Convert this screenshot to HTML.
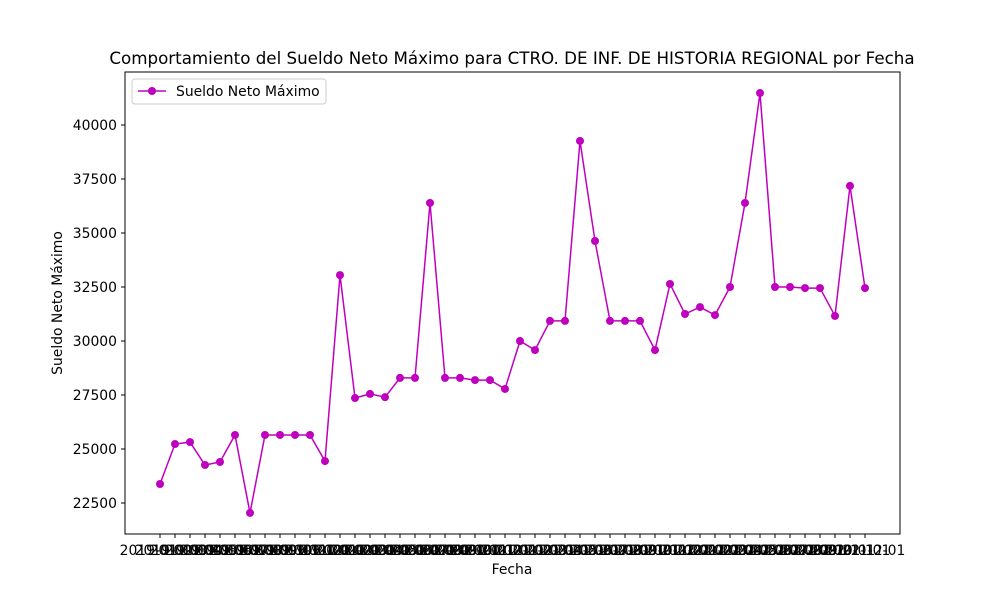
<!DOCTYPE html>
<html><head><meta charset="utf-8"><style>body{margin:0;background:#fff}svg{font-family:"DejaVu Sans","Liberation Sans",sans-serif}</style></head>
<body>
<svg id="c" width="1000" height="600"></svg>
<script>
const categories=[];for(let i=0;i<48;i++){const y=2019+Math.floor(i/12),m=i%12+1;categories.push(y+'-'+String(m).padStart(2,'0')+'-01');}
const values=[23380,25230,25320,24260,24400,25650,22040,25650,25650,25650,25650,24440,33050,27360,27550,27400,28290,28290,36390,28290,28290,28190,28190,27780,30000,29580,30930,30930,39260,34630,30930,30930,30930,29580,32640,31250,31570,31200,32500,36390,41480,32500,32500,32450,32450,31160,37180,32450];
const yTicks=[22500,25000,27500,30000,32500,35000,37500,40000];
const NS='http://www.w3.org/2000/svg',svg=document.getElementById('c');
function el(t,a,txt){const e=document.createElementNS(NS,t);for(const k in a)e.setAttribute(k,a[k]);if(txt!=null)e.textContent=txt;svg.appendChild(e);return e;}
const X=i=>160+i*(705/(categories.length-1));
const Y=v=>503-(v-22500)*(378/17500);
let e;
e=el('rect',{x:125,y:72,width:775,height:462,fill:'none',stroke:'#000','stroke-width':1});


yTicks.forEach(t=>{const y=Y(t);
e=el('line',{x1:121,x2:125,y1:y,y2:y,stroke:'#000'});


e=el('text',{x:117,y:y+5,'text-anchor':'end','font-size':13.9},t);

});
categories.forEach((c,i)=>{const x=X(i);
e=el('line',{x1:x,x2:x,y1:534,y2:538,stroke:'#000'});


e=el('text',{x:x,y:555,'text-anchor':'middle','font-size':13.9},c);

});
e=el('polyline',{points:values.map((v,i)=>X(i)+','+Y(v)).join(' '),fill:'none',stroke:'#bf00bf','stroke-width':1.5});


values.forEach((v,i)=>{e=el('circle',{cx:X(i),cy:Y(v),r:4,fill:'#bf00bf'});

});
e=el('text',{x:512,y:64,'text-anchor':'middle','font-size':16.7},'Comportamiento del Sueldo Neto Máximo para CTRO. DE INF. DE HISTORIA REGIONAL por Fecha');


e=el('text',{x:512,y:574,'text-anchor':'middle','font-size':13.9},'Fecha');


e=el('text',{x:62,y:303,'text-anchor':'middle','font-size':13.9,transform:'rotate(-90 62 303)'},'Sueldo Neto Máximo');


e=el('rect',{x:132,y:79,width:194,height:25,rx:3,fill:'#fff',stroke:'#ccc'});


e=el('line',{x1:138,x2:166,y1:91,y2:91,stroke:'#bf00bf','stroke-width':1.5});


e=el('circle',{cx:152,cy:91,r:4,fill:'#bf00bf'});


e=el('text',{x:176,y:96,'font-size':13.9},'Sueldo Neto Máximo');


</script>
</body></html>
